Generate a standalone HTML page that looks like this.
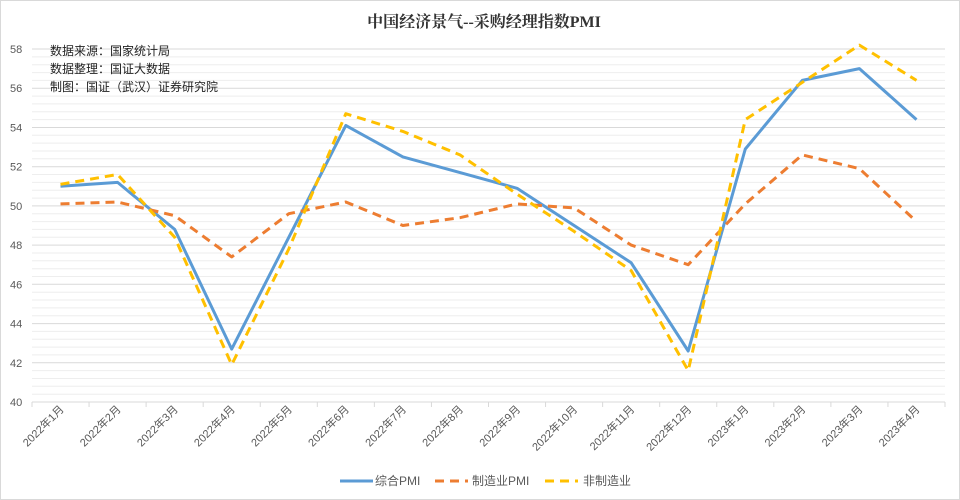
<!DOCTYPE html>
<html><head><meta charset="utf-8"><style>
body{margin:0;background:#fff}
svg{display:block;font-family:"Liberation Sans","Noto Sans CJK SC",sans-serif}
</style></head><body>
<svg width="960" height="500" viewBox="0 0 960 500">
<rect x="0.5" y="0.5" width="959" height="499" fill="#fff" stroke="#d9d9d9"/>
<text x="484" y="27" text-anchor="middle" font-size="16" font-weight="bold" fill="#333" font-family="'Liberation Serif','Noto Serif CJK SC',serif">中国经济景气--采购经理指数PMI</text>
<g id="grid"></g>
<g id="ylab" font-size="11" fill="#595959"></g>
<g id="xlab" font-size="11" fill="#595959"></g>
<g font-size="12" fill="#222" font-family="'Liberation Sans','Noto Sans CJK SC',sans-serif">
<text x="50" y="55">数据来源：国家统计局</text>
<text x="50" y="73">数据整理：国证大数据</text>
<text x="50" y="91">制图：国证（武汉）证券研究院</text>
</g>
<g id="series" fill="none" stroke-width="3" stroke-linejoin="round"></g>
<g font-size="12" fill="#595959">
<line x1="340" y1="481" x2="373" y2="481" stroke="#5b9bd5" stroke-width="3"/>
<text x="375" y="485">综合PMI</text>
<line x1="435" y1="481" x2="468" y2="481" stroke="#ed7d31" stroke-width="3" stroke-dasharray="9,6"/>
<text x="472" y="485">制造业PMI</text>
<line x1="545" y1="481" x2="578" y2="481" stroke="#ffc000" stroke-width="3" stroke-dasharray="9,6"/>
<text x="583" y="485">非制造业</text>
</g>
</svg>
<script>
const NS="http://www.w3.org/2000/svg";
function el(p,t,a,txt){const e=document.createElementNS(NS,t);for(const k in a)e.setAttribute(k,a[k]);if(txt)e.textContent=txt;document.getElementById(p).appendChild(e);}
const x0=32,x1=945,yb=402,s=19.61;
const Y=v=>yb-(v-40)*s;
for(let i=0;i<=45;i++){const v=40+i*0.4,y=Y(v).toFixed(1);
el("grid","line",{x1:x0,x2:x1,y1:y,y2:y,stroke:i%5==0?"#d9d9d9":"#eeeeee","stroke-width":1});}
for(let v=40;v<=58;v+=2)el("ylab","text",{x:10,y:Y(v)+4},String(v));
const w=(x1-x0)/16;
const labs=["2022年1月","2022年2月","2022年3月","2022年4月","2022年5月","2022年6月","2022年7月","2022年8月","2022年9月","2022年10月","2022年11月","2022年12月","2023年1月","2023年2月","2023年3月","2023年4月"];
for(let i=0;i<=16;i++){const x=x0+i*w;el("grid","line",{x1:x,x2:x,y1:yb,y2:yb+5,stroke:"#d9d9d9"});}
labs.forEach((l,i)=>{const x=x0+w*(i+0.5)+4,y=410;el("xlab","text",{x:x,y:y,"text-anchor":"end",transform:`rotate(-45 ${x} ${y})`},l);});
const d=[
[[51.0,51.2,48.8,42.7,48.4,54.1,52.5,51.7,50.9,49.0,47.1,42.6,52.9,56.4,57.0,54.4],"#5b9bd5",""],
[[50.1,50.2,49.5,47.4,49.6,50.2,49.0,49.4,50.1,49.9,48.0,47.0,50.1,52.6,51.9,49.2],"#ed7d31","9,6"],
[[51.1,51.6,48.4,41.9,47.8,54.7,53.8,52.6,50.6,48.7,46.7,41.6,54.4,56.3,58.2,56.4],"#ffc000","9,6"]];
d.forEach(([v,c,da])=>{const pts=v.map((q,i)=>(x0+w*(i+0.5)).toFixed(1)+","+Y(q).toFixed(1)).join(" ");
const a={points:pts,stroke:c};if(da)a["stroke-dasharray"]=da;el("series","polyline",a);});
</script>
</body></html>
